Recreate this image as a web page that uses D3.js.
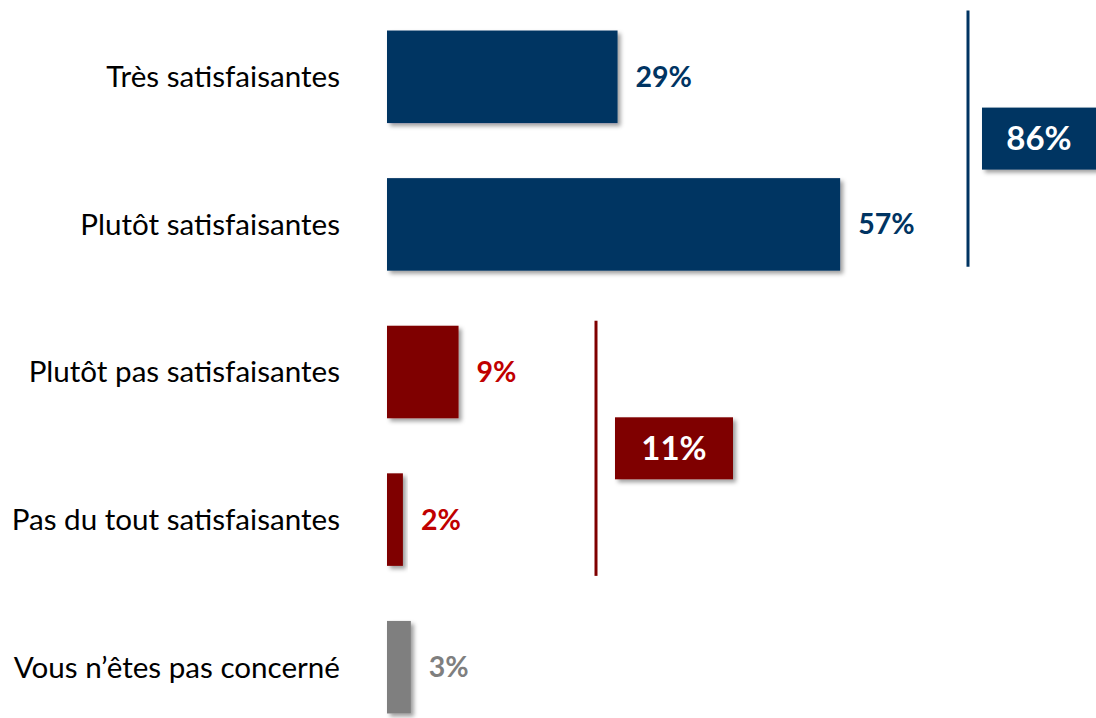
<!DOCTYPE html>
<html><head><meta charset="utf-8">
<script src="https://cdn.jsdelivr.net/npm/d3@7"></script>
<style>body{margin:0;background:#fff}svg{display:block}</style>
</head><body>
<svg id="c" width="1096" height="718"></svg>
<script>
const categories = ["Très satisfaisantes","Plutôt satisfaisantes","Plutôt pas satisfaisantes","Pas du tout satisfaisantes","Vous n’êtes pas concerné"];
const values = [29,57,9,2,3];
const groups = ["pos","pos","neg","neg","na"];
const groupTotals = [{group:"pos", label:"86%", first:0, last:1},{group:"neg", label:"11%", first:2, last:3}];

const barColor = {pos:"#003462", neg:"#7f0000", na:"#7f7f7f"};
const textColor = {pos:"#003462", neg:"#c00000", na:"#7f7f7f"};
const font = "Lato, sans-serif";

const svg = d3.select("#c");
const defs = svg.append("defs");
const f = defs.append("filter").attr("id","sh").attr("x","-20%").attr("y","-20%").attr("width","150%").attr("height","150%");
f.append("feDropShadow").attr("dx",3).attr("dy",3).attr("stdDeviation",2.2).attr("flood-color","#000").attr("flood-opacity",0.38);

const x0 = 387;
const x = d3.scaleLinear().domain([0,100]).range([x0, x0+795]);
const y = d3.scaleBand().domain(categories).range([0, 742]).paddingInner(0.373).paddingOuter(0.2);

svg.selectAll("rect.bar").data(categories).join("rect").attr("class","bar")
  .attr("x", x(0)).attr("y", d=>y(d)+1)
  .attr("width", (d,i)=>x(values[i])-x(0))
  .attr("height", y.bandwidth())
  .attr("fill",(d,i)=>barColor[groups[i]])
  .attr("filter","url(#sh)");

svg.selectAll("text.cat").data(categories).join("text").attr("class","cat")
  .attr("x",340).attr("y",d=>y(d)+1+y.bandwidth()/2)
  .attr("dy","0.35em").attr("text-anchor","end")
  .attr("font-family",font).attr("font-size",29.6).attr("fill","#000")
  .text(d=>d);

svg.selectAll("text.val").data(categories).join("text").attr("class","val")
  .attr("x",(d,i)=>x(values[i])+18).attr("y",d=>y(d)+1+y.bandwidth()/2)
  .attr("dy","0.35em")
  .attr("font-family",font).attr("font-size",28.5).attr("font-weight","bold")
  .attr("fill",(d,i)=>textColor[groups[i]])
  .text((d,i)=>values[i]+"%");

const bracket = {pos:{lx:968, top:-20, bot:-4, bx:982, bw:130}, neg:{lx:596, top:-5, bot:10, bx:615, bw:118}};
groupTotals.forEach(g=>{
  const b = bracket[g.group];
  const t = y(categories[g.first])+1 + b.top;
  const bt = y(categories[g.last])+1+y.bandwidth() + b.bot;
  svg.append("line").attr("x1",b.lx).attr("x2",b.lx).attr("y1",t).attr("y2",bt)
    .attr("stroke",barColor[g.group]).attr("stroke-width",3);
  const cy = (t+bt)/2;
  svg.append("rect").attr("x",b.bx).attr("y",cy-31).attr("width",b.bw).attr("height",62)
    .attr("fill",barColor[g.group]).attr("filter","url(#sh)");
  svg.append("text").attr("x",b.bx+ (g.group==="pos"?57:59)).attr("y",cy).attr("dy","0.36em")
    .attr("text-anchor","middle").attr("font-family",font).attr("font-size",33).attr("font-weight","bold")
    .attr("fill","#fff").text(g.label);
});
</script>
</body></html>
